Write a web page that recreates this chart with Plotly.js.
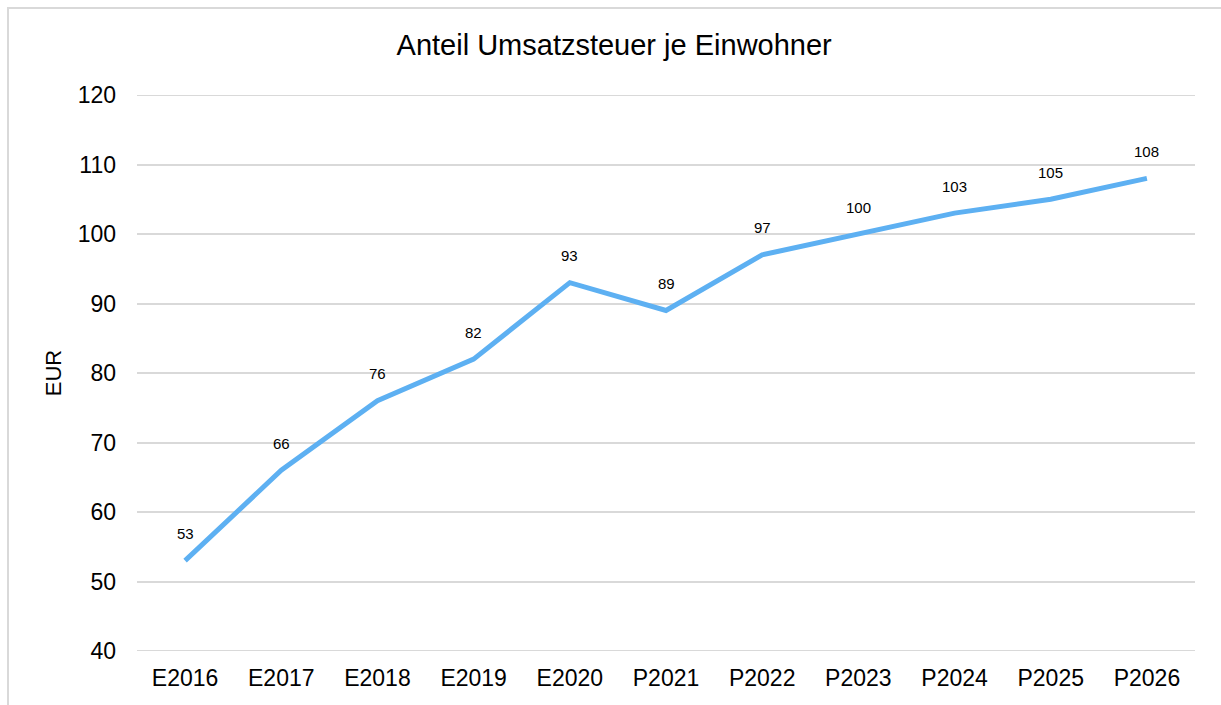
<!DOCTYPE html>
<html>
<head>
<meta charset="utf-8">
<script src="https://cdn.plot.ly/plotly-3.0.1.min.js"></script>
<style>
  html, body { margin: 0; padding: 0; background: #ffffff; }
  #wrap { position: relative; width: 1221px; height: 705px; }
  #chart { width: 1221px; height: 705px; }
  #frame { position: absolute; left: 7px; top: 7px; width: 1214px; height: 698px;
           border-top: 2px solid #d9d9d9; border-left: 2px solid #d9d9d9;
           box-sizing: border-box; pointer-events: none; }
</style>
</head>
<body>
<div id="wrap">
  <div id="chart"></div>
  <div id="frame"></div>
</div>
<script>
const categories = ["E2016", "E2017", "E2018", "E2019", "E2020", "P2021", "P2022", "P2023", "P2024", "P2025", "P2026"];
const values = [53, 66, 76, 82, 93, 89, 97, 100, 103, 105, 108];
const yTicks = [40, 50, 60, 70, 80, 90, 100, 110, 120];

const font = "Liberation Sans, Arial, sans-serif";
const gridColor = "#d9d9d9";

const trace = {
  type: "scatter",
  mode: "lines",
  x: categories,
  y: values,
  line: { color: "#5db0f2", width: 5, shape: "linear" },
  hoverinfo: "x+y"
};

const annotations = categories.map((c, i) => ({
  x: c,
  y: values[i],
  xref: "x",
  yref: "y",
  text: String(values[i]),
  showarrow: false,
  yshift: 27,
  font: { family: font, size: 15, color: "#000000" }
}));

// gridlines at the range ends (Plotly omits them at the plot edges)
const edgeTicks = [yTicks[0], yTicks[yTicks.length - 1]];
const shapes = edgeTicks.map(v => ({
  type: "line",
  xref: "paper",
  yref: "y",
  x0: 0,
  x1: 1,
  y0: v,
  y1: v,
  layer: "below",
  line: { color: gridColor, width: 2 }
}));

const layout = {
  width: 1221,
  height: 705,
  paper_bgcolor: "#ffffff",
  plot_bgcolor: "#ffffff",
  margin: { l: 137, r: 26, t: 95, b: 54 },
  showlegend: false,
  title: {
    text: "Anteil Umsatzsteuer je Einwohner",
    font: { family: font, size: 29, color: "#000000" },
    x: 0.503,
    xanchor: "center",
    y: 0.937,
    yanchor: "middle"
  },
  xaxis: {
    type: "category",
    range: [-0.5, categories.length - 0.5],
    showgrid: false,
    zeroline: false,
    showline: false,
    ticks: "",
    ticklabelstandoff: 11,
    tickfont: { family: font, size: 23, color: "#000000" }
  },
  yaxis: {
    range: [yTicks[0], yTicks[yTicks.length - 1]],
    tickvals: yTicks,
    ticktext: yTicks.map(String),
    showgrid: true,
    gridcolor: gridColor,
    gridwidth: 2,
    zeroline: false,
    showline: false,
    ticks: "",
    ticklabelstandoff: 20,
    tickfont: { family: font, size: 23, color: "#000000" },
    title: {
      text: "EUR",
      font: { family: font, size: 22, color: "#000000" },
      standoff: 9
    }
  },
  shapes: shapes,
  annotations: annotations
};

Plotly.newPlot("chart", [trace], layout, { displayModeBar: false, staticPlot: true });
</script>
</body>
</html>
